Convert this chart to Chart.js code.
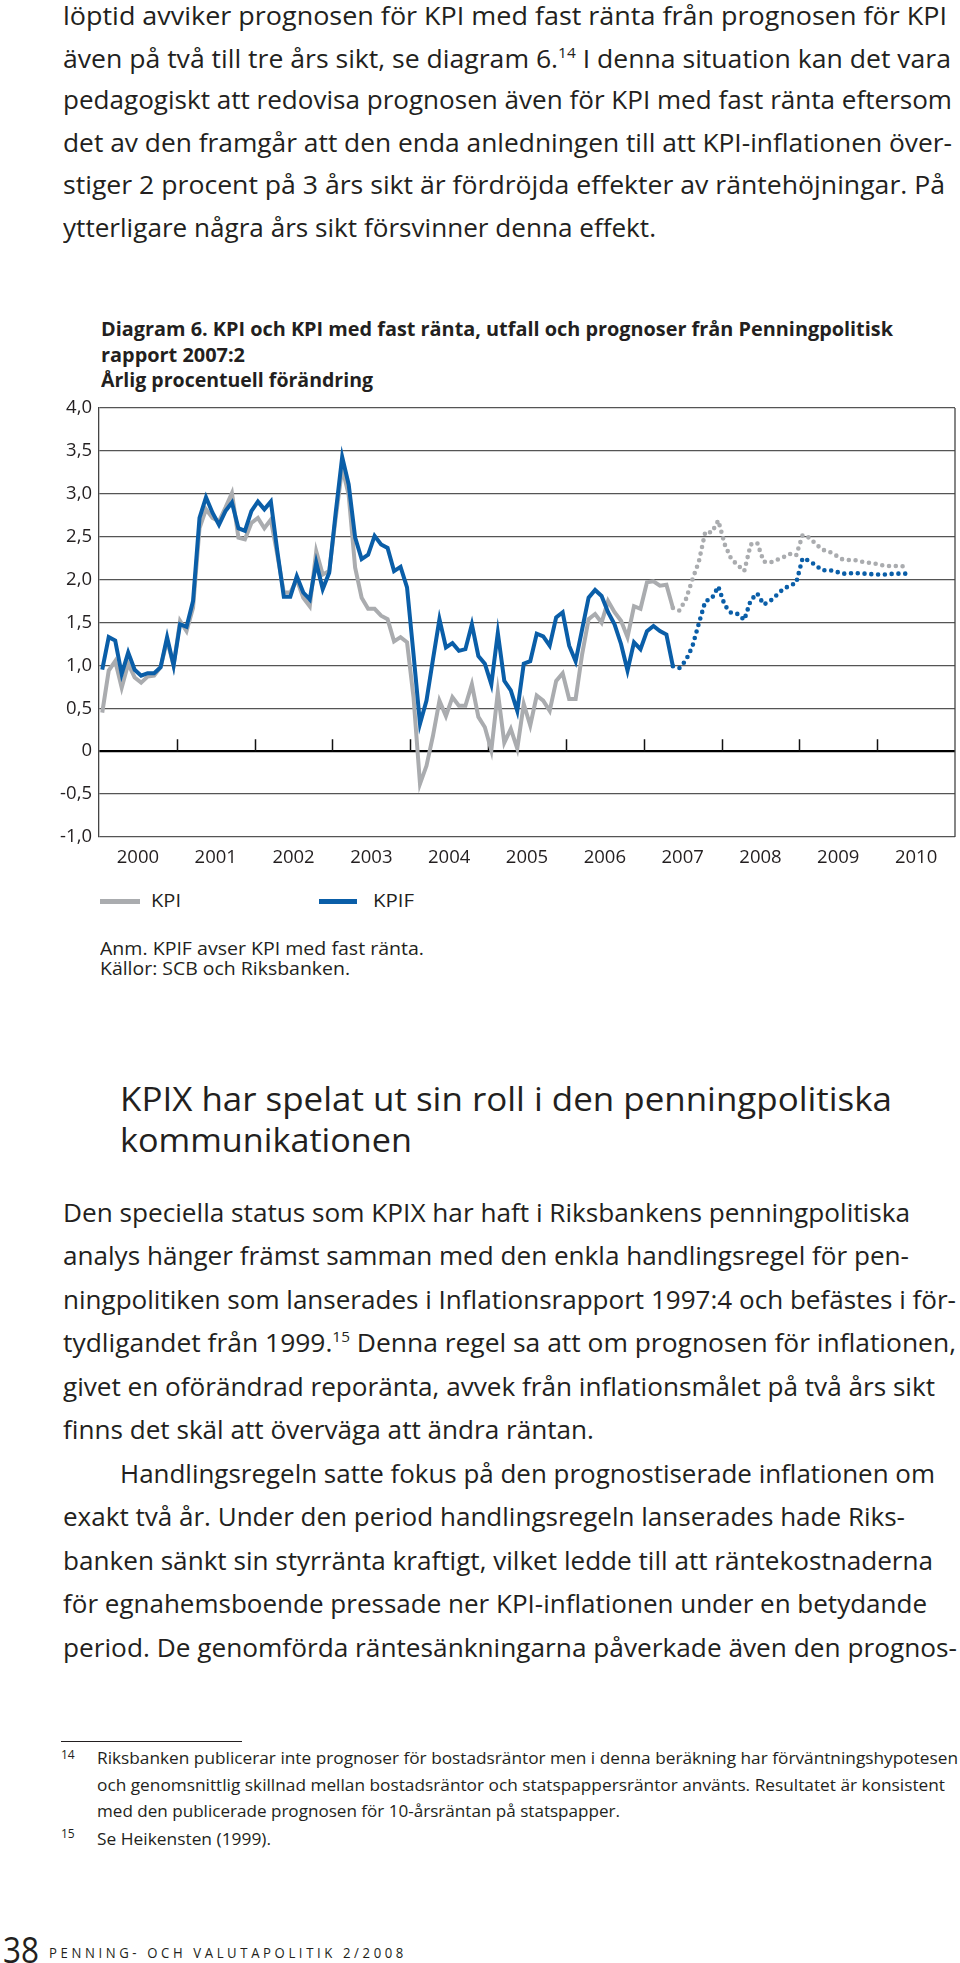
<!DOCTYPE html>
<html lang="sv">
<head>
<meta charset="utf-8">
<title>Diagram 6. KPI och KPI med fast ränta</title>
<script src="https://cdn.jsdelivr.net/npm/chart.js@4.4.1/dist/chart.umd.min.js"></script>
<style>
html, body { margin: 0; padding: 0; background: #fff; }
body { width: 960px; height: 1963px; position: relative; overflow: hidden; color: #231f20; font-family: "Open Sans", sans-serif; }
.ln { position: absolute; white-space: nowrap; line-height: 1; transform-origin: 0 50%; }
.p { font-size: 25px; }
.h { font-size: 33px; }
.t { font-size: 19.5px; font-weight: 700; }
.s { font-size: 18px; }
.f { font-size: 17px; }
.fn { position: absolute; font-size: 12px; line-height: 1; }
sup { font-size: 0.58em; line-height: 0; vertical-align: 0.7em; }
.bar { position: absolute; height: 5px; }
#chart { position: absolute; left: 0; top: 390px; }
.rule { position: absolute; left: 61px; top: 1741px; width: 181px; height: 1px; background: #231f20; }
</style>
</head>
<body>

<!-- text above the chart -->
<div class="ln p" style="left:63px;top:3px" data-w="884">löptid avviker prognosen för KPI med fast ränta från prognosen för KPI</div>
<div class="ln p" style="left:63px;top:46px" data-w="888">även på två till tre års sikt, se diagram 6.<sup>14</sup> I denna situation kan det vara</div>
<div class="ln p" style="left:63px;top:87px" data-w="889">pedagogiskt att redovisa prognosen även för KPI med fast ränta eftersom</div>
<div class="ln p" style="left:63px;top:130px" data-w="889">det av den framgår att den enda anledningen till att KPI-inflationen över-</div>
<div class="ln p" style="left:63px;top:172px" data-w="882">stiger 2 procent på 3 års sikt är fördröjda effekter av räntehöjningar. På</div>
<div class="ln p" style="left:63px;top:215px" data-w="593">ytterligare några års sikt försvinner denna effekt.</div>

<!-- chart title -->
<div class="ln t" style="left:101px;top:319px" data-w="792">Diagram 6. KPI och KPI med fast ränta, utfall och prognoser från Penningpolitisk</div>
<div class="ln t" style="left:101px;top:345px" data-w="144">rapport 2007:2</div>
<div class="ln t" style="left:101px;top:370px" data-w="272">Årlig procentuell förändring</div>

<canvas id="chart" width="960" height="490"></canvas>

<!-- legend + notes -->
<div class="bar" style="left:100px;top:899px;width:40px;background:#aaacaf"></div>
<div class="ln s" style="left:151px;top:891px" data-w="30">KPI</div>
<div class="bar" style="left:319px;top:899px;width:38px;background:#0a5ea8"></div>
<div class="ln s" style="left:373px;top:891px" data-w="41">KPIF</div>
<div class="ln s" style="left:100px;top:939px" data-w="324">Anm. KPIF avser KPI med fast ränta.</div>
<div class="ln s" style="left:100px;top:959px" data-w="250">Källor: SCB och Riksbanken.</div>

<!-- section heading -->
<div class="ln h" style="left:120px;top:1082px" data-w="772">KPIX har spelat ut sin roll i den penningpolitiska</div>
<div class="ln h" style="left:120px;top:1123px" data-w="292">kommunikationen</div>

<!-- body text -->
<div class="ln p" style="left:63px;top:1200px" data-w="847">Den speciella status som KPIX har haft i Riksbankens penningpolitiska</div>
<div class="ln p" style="left:63px;top:1243px" data-w="846">analys hänger främst samman med den enkla handlingsregel för pen-</div>
<div class="ln p" style="left:63px;top:1287px" data-w="893">ningpolitiken som lanserades i Inflationsrapport 1997:4 och befästes i för-</div>
<div class="ln p" style="left:63px;top:1330px" data-w="893">tydligandet från 1999.<sup>15</sup> Denna regel sa att om prognosen för inflationen,</div>
<div class="ln p" style="left:63px;top:1374px" data-w="872">givet en oförändrad reporänta, avvek från inflationsmålet på två års sikt</div>
<div class="ln p" style="left:63px;top:1417px" data-w="531">finns det skäl att överväga att ändra räntan.</div>
<div class="ln p" style="left:120px;top:1461px" data-w="815">Handlingsregeln satte fokus på den prognostiserade inflationen om</div>
<div class="ln p" style="left:63px;top:1504px" data-w="842">exakt två år. Under den period handlingsregeln lanserades hade Riks-</div>
<div class="ln p" style="left:63px;top:1548px" data-w="870">banken sänkt sin styrränta kraftigt, vilket ledde till att räntekostnaderna</div>
<div class="ln p" style="left:63px;top:1591px" data-w="864">för egnahemsboende pressade ner KPI-inflationen under en betydande</div>
<div class="ln p" style="left:63px;top:1635px" data-w="894">period. De genomförda räntesänkningarna påverkade även den prognos-</div>

<!-- footnotes -->
<div class="rule"></div>
<div class="fn" style="left:61px;top:1749px">14</div>
<div class="ln f" style="left:97px;top:1749px" data-w="861">Riksbanken publicerar inte prognoser för bostadsräntor men i denna beräkning har förväntningshypotesen</div>
<div class="ln f" style="left:97px;top:1776px" data-w="848">och genomsnittlig skillnad mellan bostadsräntor och statspappersräntor använts. Resultatet är konsistent</div>
<div class="ln f" style="left:97px;top:1802px" data-w="523">med den publicerade prognosen för 10-årsräntan på statspapper.</div>
<div class="fn" style="left:61px;top:1828px">15</div>
<div class="ln f" style="left:97px;top:1830px" data-w="174">Se Heikensten (1999).</div>

<!-- page footer -->
<div class="ln" style="left:3px;top:1932px;font-size:36px" data-w="36">38</div>
<div class="ln" style="left:49px;top:1946px;font-size:14.5px;letter-spacing:4px" data-w="358">PENNING- OCH VALUTAPOLITIK 2/2008</div>

<script>
// x axis: months from jan 2000 (0) to dec 2010 (131)
const years = ['2000', '2001', '2002', '2003', '2004', '2005', '2006', '2007', '2008', '2009', '2010'];
const nMonths = 132;
const yearStarts = [12, 24, 36, 48, 60, 72, 84, 96, 108, 120];

// utfall, jan 2000 - maj 2007
const outcomeStart = 0;
const kpiOutcome = [
    0.45, 0.94, 1.05, 0.74, 1.02, 0.86, 0.80, 0.87, 0.88, 0.98, 1.29, 1.00,
    1.52, 1.40, 1.67, 2.60, 2.82, 2.72, 2.68, 2.84, 3.01, 2.49, 2.47, 2.66,
    2.72, 2.60, 2.70, 2.29, 1.85, 1.85, 2.00, 1.79, 1.69, 2.33, 2.06, 2.10,
    2.72, 3.30, 2.99, 2.14, 1.79, 1.66, 1.66, 1.58, 1.54, 1.28, 1.33, 1.27,
    0.63, -0.38, -0.17, 0.18, 0.59, 0.41, 0.63, 0.53, 0.53, 0.78, 0.40, 0.28,
    0.01, 0.69, 0.10, 0.26, 0.03, 0.55, 0.30, 0.65, 0.59, 0.47, 0.82, 0.91,
    0.61, 0.61, 1.13, 1.54, 1.60, 1.50, 1.75, 1.62, 1.52, 1.33, 1.69, 1.66,
    1.97, 1.98, 1.93, 1.94, 1.67
];
const kpifOutcome = [
    0.95, 1.33, 1.29, 0.90, 1.15, 0.95, 0.88, 0.91, 0.91, 0.98, 1.33, 1.00,
    1.48, 1.45, 1.75, 2.72, 2.96, 2.78, 2.64, 2.80, 2.90, 2.60, 2.57, 2.80,
    2.91, 2.82, 2.91, 2.33, 1.80, 1.80, 2.04, 1.85, 1.77, 2.20, 1.89, 2.08,
    2.78, 3.43, 3.11, 2.49, 2.24, 2.29, 2.51, 2.41, 2.37, 2.10, 2.15, 1.91,
    1.13, 0.32, 0.59, 1.07, 1.54, 1.21, 1.26, 1.17, 1.19, 1.48, 1.11, 1.02,
    0.78, 1.38, 0.82, 0.71, 0.47, 1.02, 1.05, 1.37, 1.34, 1.23, 1.56, 1.62,
    1.23, 1.05, 1.42, 1.79, 1.88, 1.81, 1.62, 1.48, 1.25, 0.94, 1.27, 1.19,
    1.40, 1.46, 1.40, 1.36, 0.99
];

// prognoser PPR 2007:2, maj 2007 - maj 2010
const forecastStart = 88;
const kpiForecast = [
    1.67, 1.64, 1.77, 2.00, 2.21, 2.56, 2.55, 2.69, 2.41, 2.24, 2.17, 2.10,
    2.41, 2.43, 2.21, 2.20, 2.23, 2.26, 2.30, 2.28, 2.52, 2.49, 2.42, 2.35,
    2.33, 2.29, 2.24, 2.23, 2.23, 2.21, 2.20, 2.19, 2.17, 2.16, 2.16, 2.16,
    2.15
];
const kpifForecast = [
    0.99, 0.97, 1.06, 1.22, 1.49, 1.75, 1.78, 1.92, 1.70, 1.61, 1.60, 1.53,
    1.76, 1.84, 1.71, 1.75, 1.82, 1.89, 1.93, 1.96, 2.25, 2.22, 2.17, 2.11,
    2.11, 2.10, 2.07, 2.07, 2.08, 2.07, 2.07, 2.06, 2.06, 2.06, 2.07, 2.07,
    2.07
];

const grey = '#aaacaf';
const blue = '#0a5ea8';

function points(vals, start) {
    return vals.map((v, i) => ({x: start + i + 0.5, y: v}));
}

// year tick marks standing on the zero line + right frame
const frame = {
    id: 'frame',
    beforeDatasetsDraw(chart) {
        const {ctx, chartArea: a, scales} = chart;
        const y0 = scales.y.getPixelForValue(0);
        ctx.save();
        ctx.strokeStyle = '#111';
        ctx.lineWidth = 1.5;
        ctx.beginPath();
        yearStarts.forEach(m => {
            const px = Math.round(scales.x.getPixelForValue(m)) + 0.5;
            ctx.moveTo(px, y0);
            ctx.lineTo(px, y0 - 12);
        });
        ctx.stroke();
        ctx.strokeStyle = '#444';
        ctx.lineWidth = 1.3;
        ctx.beginPath();
        ctx.moveTo(a.right, a.top);
        ctx.lineTo(a.right, a.bottom);
        ctx.stroke();
        ctx.restore();
    }
};

function fitLines() {
    document.querySelectorAll('.ln').forEach(el => {
        el.style.transform = 'none';
        const nat = el.getBoundingClientRect().width;
        const w = +el.dataset.w;
        if (nat > 0 && w) el.style.transform = 'scaleX(' + (w / nat) + ')';
    });
}

document.addEventListener('DOMContentLoaded', () => {
    Chart.defaults.font.family = '"Open Sans", sans-serif';
    Chart.defaults.color = '#231f20';

    new Chart(document.getElementById('chart'), {
        type: 'line',
        data: {
            datasets: [
                {label: 'KPIF', data: points(kpifOutcome, outcomeStart), borderColor: blue, borderWidth: 4, order: 0},
                {label: 'KPI', data: points(kpiOutcome, outcomeStart), borderColor: grey, borderWidth: 4, order: 1},
                {label: 'KPIF prognos', data: points(kpifForecast, forecastStart), borderColor: blue, borderWidth: 4.6,
                    borderDash: [0, 6.8], borderCapStyle: 'round', order: 2},
                {label: 'KPI prognos', data: points(kpiForecast, forecastStart), borderColor: grey, borderWidth: 4.6,
                    borderDash: [0, 6.8], borderCapStyle: 'round', order: 3}
            ]
        },
        options: {
            responsive: false,
            animation: false,
            events: [],
            elements: {point: {radius: 0}, line: {tension: 0, fill: false}},
            layout: {padding: {top: 16, right: 5, left: 0, bottom: 0}},
            plugins: {legend: {display: false}, tooltip: {enabled: false}},
            scales: {
                x: {type: 'linear', display: false, min: 0, max: nMonths},
                years: {
                    type: 'category',
                    labels: years,
                    position: 'bottom',
                    offset: true,
                    grid: {display: false, drawTicks: false},
                    border: {display: false},
                    ticks: {padding: 10, maxRotation: 0, autoSkip: false, font: {size: 18.5}},
                    afterFit: (s) => { s.height = 43; }
                },
                y: {
                    min: -1,
                    max: 4,
                    afterFit: (s) => { s.width = 99; },
                    ticks: {
                        stepSize: 0.5,
                        padding: 7,
                        font: {size: 18.5},
                        callback: (v) => v === 0 ? '0' : v.toFixed(1).replace('.', ',')
                    },
                    grid: {
                        drawTicks: false,
                        color: (c) => c.tick && c.tick.value === 0 ? '#000' : '#555',
                        lineWidth: (c) => c.tick && c.tick.value === 0 ? 2.2 : 1.3
                    },
                    border: {display: true, color: '#444', width: 1.3}
                }
            }
        },
        plugins: [frame]
    });

    fitLines();
    if (document.fonts) document.fonts.ready.then(fitLines);
});
</script>
</body>
</html>
